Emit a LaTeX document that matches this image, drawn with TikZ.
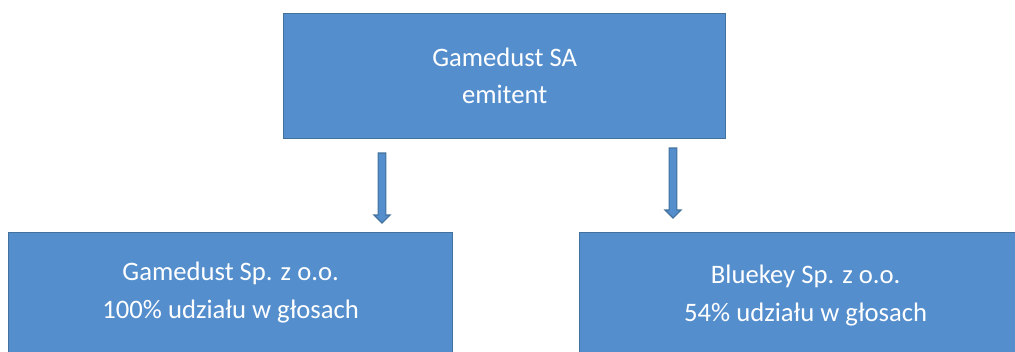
\documentclass[tikz,border=0pt]{standalone}
\usepackage{fontspec}
\setmainfont{Carlito}
\definecolor{boxblue}{RGB}{84,142,205}
\definecolor{lineblue}{RGB}{65,113,156}

\begin{document}
\begin{tikzpicture}[x=0.75pt, y=-0.75pt,
  firm/.style={draw=lineblue, fill=boxblue, line width=1pt, anchor=north west,
    inner sep=0pt, align=center, text=white, font=\fontsize{20}{28}\selectfont},
  down/.style={draw=lineblue, fill=boxblue, line width=0.8pt}]
  \clip (0,0) rectangle (1015,351);
  \node[firm, minimum width=331.5pt, minimum height=93.75pt] (emitent) at (283,13) {Gamedust SA\\emitent};
  \node[firm, minimum width=333pt, minimum height=90pt] (gamedust) at (8,232) {Gamedust Sp. z o.o.\\100\% udziału w głosach};
  \node[firm, minimum width=339pt, minimum height=94.5pt] (bluekey) at (579,232) {Bluekey Sp. z o.o.\\54\% udziału w głosach};
  \coordinate (s1) at (382,153);
  \coordinate (s2) at (673,148);
  \draw[down] (s1) ++(-3.8,0) -- ++(0,62) -- ++(-4.2,0) -- ++(8,8) -- ++(8,-8) -- ++(-4.2,0) -- ++(0,-62) -- cycle;
  \draw[down] (s2) ++(-3.8,0) -- ++(0,62) -- ++(-4.2,0) -- ++(8,8) -- ++(8,-8) -- ++(-4.2,0) -- ++(0,-62) -- cycle;
\end{tikzpicture}
\end{document}
